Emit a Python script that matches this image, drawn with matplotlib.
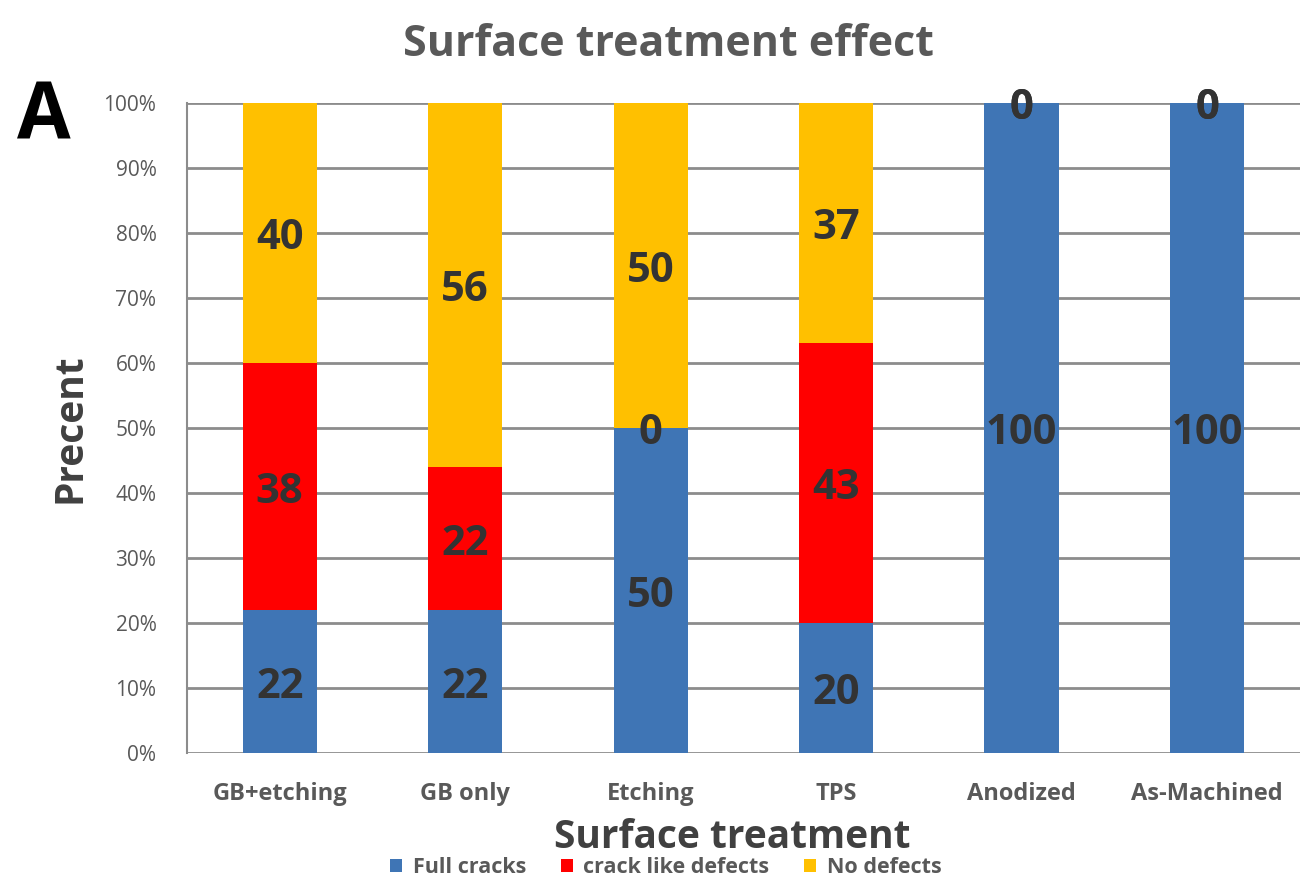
import matplotlib.pyplot as plt
import numpy as np

# values (percent)
categories = ['GB+etching', 'GB only', 'Etching', 'TPS', 'Anodized', 'As-Machined']
full_cracks = [22, 22, 50, 20, 100, 100]
crack_like = [38, 22, 0, 43, 0, 0]
no_defects = [40, 56, 50, 37, 0, 0]
series_names = ['Full cracks', 'crack like defects', 'No defects']
y_ticks = [0, 10, 20, 30, 40, 50, 60, 70, 80, 90, 100]

colors = ['#3f75b5', '#ff0000', '#ffc000']
plt.rcParams['font.family'] = ['Open Sans', 'DejaVu Sans']

fig = plt.figure(figsize=(13.03, 8.81), dpi=100)
ax = fig.add_axes([0.1435, 0.1453, 0.854, 0.7378])

x = np.arange(len(categories))
width = 0.4
bottom = np.zeros(len(categories))
for name, vals, col in zip(series_names, [full_cracks, crack_like, no_defects], colors):
    vals = np.array(vals, dtype=float)
    ax.bar(x, vals, width, bottom=bottom, color=col, label=name, zorder=3)
    # value labels centred in each segment (slightly low, like the original)
    for xi, b, v in zip(x, bottom, vals):
        ax.annotate(f'{int(v)}', (xi, b + v / 2), xytext=(0, -4), textcoords='offset points',
                    ha='center', va='center', fontsize=30, fontweight='bold',
                    color='#333333', zorder=4)
    bottom += vals

ax.set_xlim(-0.5, len(categories) - 0.5)
ax.set_ylim(0, 100)
ax.set_yticks(y_ticks)
ax.set_yticklabels([f'{t}%' for t in y_ticks], fontsize=15, color='#595959')
ax.set_xticks(x)
ax.set_xticklabels(categories, fontsize=17, fontweight='bold', color='#595959')
ax.tick_params(axis='x', length=0, pad=21)
ax.tick_params(axis='y', length=0, pad=22)
ax.yaxis.grid(True, color='#8c8c8c', linewidth=2, zorder=0)
for s in ['top', 'right', 'bottom']:
    ax.spines[s].set_visible(False)
ax.spines['left'].set_color('#8c8c8c')
ax.spines['left'].set_linewidth(1.5)

ax.set_ylabel('Precent', fontsize=28, fontweight='bold', color='#404040', labelpad=10)
ax.set_xlabel('Surface treatment', fontsize=28, fontweight='bold', color='#404040')
ax.xaxis.set_label_coords(0.49, -0.1)
fig.text(0.513, 0.95, 'Surface treatment effect', ha='center', va='center',
         fontsize=31, fontweight='bold', color='#595959')
fig.text(0.034, 0.866, 'A', ha='center', va='center', fontsize=56, fontweight='bold', color='black')

fig.legend(loc='center', bbox_to_anchor=(0.511, 0.015), ncol=3, frameon=False,
           handlelength=0.55, handleheight=0.55, handletextpad=0.5, columnspacing=1.6,
           labelcolor='#595959', prop={'weight': 'bold', 'size': 15.5})

fig.savefig('out.png', dpi=100)
